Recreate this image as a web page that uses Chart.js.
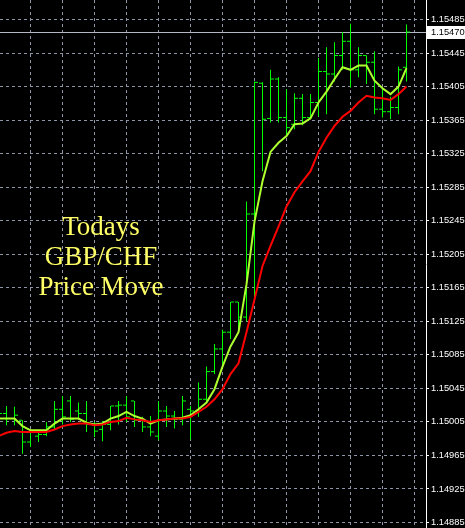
<!DOCTYPE html>
<html>
<head>
<meta charset="utf-8">
<script src="https://cdn.jsdelivr.net/npm/chart.js@4"></script>
<style>
  html, body { margin: 0; padding: 0; background: #000; }
  #wrap { position: relative; width: 465px; height: 528px; overflow: hidden; }
  #note {
    position: absolute; left: 0; top: 211px; width: 202px;
    text-align: center; color: #ffff66;
    font: 27px/30px "Liberation Serif", "Times New Roman", serif;
  }
</style>
</head>
<body>
<div id="wrap">
  <canvas id="ch" width="465" height="528"></canvas>
  <div id="note">Todays<br>GBP/CHF<br>Price Move</div>
</div>
<script>
// GBP/CHF intraday bars, index -1 is the partly hidden bar at the left edge
const FIRST_BAR = -1;
const OPEN  = [1.15012, 1.15015, 1.15009, 1.15007, 1.14981, 1.14988, 1.14990, 1.14999, 1.15020, 1.15030,
               1.15018, 1.15015, 1.15002, 1.14996, 1.15002, 1.15024, 1.15025, 1.15030, 1.15007, 1.14999,
               1.14988, 1.15018, 1.15012, 1.15008, 1.15020, 1.15018, 1.15032, 1.15065, 1.15092, 1.15112,
               1.15148, 1.15130, 1.15253, 1.15409, 1.15367, 1.15414, 1.15368, 1.15360, 1.15391, 1.15368,
               1.15386, 1.15423, 1.15420, 1.15442, 1.15459, 1.15425, 1.15442, 1.15434, 1.15378, 1.15375,
               1.15380, 1.15428];
const HIGH  = [1.15020, 1.15024, 1.15023, 1.15007, 1.14996, 1.14992, 1.15005, 1.15030, 1.15036, 1.15036,
               1.15028, 1.15030, 1.15005, 1.15006, 1.15024, 1.15030, 1.15036, 1.15030, 1.15011, 1.15012,
               1.15030, 1.15024, 1.15018, 1.15036, 1.15024, 1.15052, 1.15071, 1.15098, 1.15115, 1.15148,
               1.15148, 1.15268, 1.15411, 1.15410, 1.15425, 1.15416, 1.15402, 1.15397, 1.15396, 1.15396,
               1.15439, 1.15452, 1.15458, 1.15470, 1.15480, 1.15452, 1.15442, 1.15447, 1.15402, 1.15393,
               1.15429, 1.15479];
const LOW   = [1.15000, 1.15001, 1.15001, 1.14967, 1.14975, 1.14981, 1.14988, 1.14996, 1.15002, 1.15005,
               1.15008, 1.14993, 1.14987, 1.14982, 1.14995, 1.15002, 1.15005, 1.14999, 1.14993, 1.14988,
               1.14983, 1.14999, 1.14997, 1.15001, 1.14984, 1.15011, 1.15028, 1.15062, 1.15071, 1.15104,
               1.15115, 1.15125, 1.15151, 1.15304, 1.15362, 1.15362, 1.15346, 1.15354, 1.15359, 1.15366,
               1.15369, 1.15372, 1.15411, 1.15425, 1.15404, 1.15416, 1.15408, 1.15372, 1.15368, 1.15366,
               1.15372, 1.15411];
const CLOSE = [1.15015, 1.15009, 1.15013, 1.14981, 1.14994, 1.14990, 1.14999, 1.15020, 1.15011, 1.15008,
               1.15015, 1.15002, 1.14994, 1.15002, 1.15024, 1.15025, 1.15011, 1.15007, 1.14999, 1.14993,
               1.15018, 1.15012, 1.15008, 1.15030, 1.15018, 1.15032, 1.15065, 1.15092, 1.15112, 1.15148,
               1.15130, 1.15253, 1.15410, 1.15366, 1.15414, 1.15368, 1.15356, 1.15391, 1.15368, 1.15386,
               1.15423, 1.15420, 1.15442, 1.15459, 1.15425, 1.15442, 1.15434, 1.15378, 1.15375, 1.15380,
               1.15425, 1.15470];
// moving averages (fast = yellow-green, slow = red)
const MA_FAST = [1.15009, 1.15009, 1.15009, 1.15000, 1.14995, 1.14995, 1.14995, 1.15003, 1.15009, 1.15009,
                 1.15009, 1.15004, 1.15002, 1.15003, 1.15009, 1.15012, 1.15017, 1.15012, 1.15009, 1.15003,
                 1.15007, 1.15008, 1.15009, 1.15010, 1.15013, 1.15020, 1.15028, 1.15044, 1.15071, 1.15095,
                 1.15112, 1.15169, 1.15244, 1.15292, 1.15327, 1.15338, 1.15346, 1.15360, 1.15361, 1.15367,
                 1.15386, 1.15399, 1.15414, 1.15428, 1.15425, 1.15430, 1.15430, 1.15412, 1.15403, 1.15396,
                 1.15405, 1.15427];
const MA_SLOW = [1.14988, 1.14992, 1.14994, 1.14993, 1.14993, 1.14993, 1.14993, 1.14996, 1.15000, 1.15002,
                 1.15003, 1.15003, 1.15001, 1.15002, 1.15005, 1.15006, 1.15010, 1.15008, 1.15007, 1.15005,
                 1.15007, 1.15008, 1.15009, 1.15009, 1.15011, 1.15017, 1.15023, 1.15032, 1.15044, 1.15062,
                 1.15075, 1.15112, 1.15151, 1.15191, 1.15215, 1.15238, 1.15262, 1.15279, 1.15292, 1.15304,
                 1.15327, 1.15344, 1.15358, 1.15369, 1.15376, 1.15386, 1.15394, 1.15392, 1.15391, 1.15389,
                 1.15396, 1.15405];
const BID = 1.15470;
const Y_TICKS = [1.14885, 1.14925, 1.14965, 1.15005, 1.15045, 1.15085, 1.15125, 1.15165,
                 1.15205, 1.15245, 1.15285, 1.15325, 1.15365, 1.15405, 1.15445, 1.15485];
const X_GRID = [3, 7, 11, 15, 19, 23, 27, 31, 35, 39, 43, 47, 51];

// ── layout / style ──────────────────────────────────────────────
const AXIS_W   = 39;          // width of the price scale on the right
const BAR_PX   = 8;           // pixels per bar
const X_MIN    = -0.8125;
const X_MAX    = X_MIN + (465 - AXIS_W) / BAR_PX;
const Y_MIN    = 1.1487844;
const Y_MAX    = 1.1550826;
const TICK_OFF = 0.25;
const GRID_CLR = '#8d95a6';
const LBL_FONT = { family: 'Liberation Sans', size: 9.3 };

const xs = OPEN.map((_, k) => k + FIRST_BAR);
const pts = arr => arr.map((v, k) => ({ x: xs[k], y: v }));

const bidLine = {
  id: 'bidLine',
  beforeDatasetsDraw(chart) {
    const { ctx, chartArea: a, scales: { y } } = chart;
    const py = Math.round(y.getPixelForValue(BID)) + 0.5;
    ctx.save();
    ctx.strokeStyle = '#b4b8c4';
    ctx.lineWidth = 1;
    ctx.beginPath();
    ctx.moveTo(a.left, py);
    ctx.lineTo(a.right, py);
    ctx.stroke();
    ctx.restore();
  },
  afterDraw(chart) {
    const { ctx, chartArea: a, scales: { y } } = chart;
    const py = Math.round(y.getPixelForValue(BID));
    ctx.save();
    ctx.fillStyle = '#ffffff';
    ctx.fillRect(a.right + 1, py - 6, chart.width - a.right - 1, 13);
    ctx.fillStyle = '#000000';
    ctx.font = `${LBL_FONT.size}px "${LBL_FONT.family}"`;
    ctx.textBaseline = 'middle';
    ctx.fillText(BID.toFixed(5), a.right + 5, py + 0.5);
    ctx.restore();
  }
};

new Chart(document.getElementById('ch'), {
  type: 'bar',
  data: {
    datasets: [
      { type: 'line', data: pts(MA_SLOW), borderColor: '#ff0000', borderWidth: 2, pointRadius: 0, tension: 0, order: 0 },
      { type: 'line', data: pts(MA_FAST), borderColor: '#adff2f', borderWidth: 2, pointRadius: 0, tension: 0, order: 1 },
      { type: 'line', data: OPEN.map((v, k) => ({ x: xs[k] - TICK_OFF, y: v })), showLine: false,
        pointStyle: 'line', pointRadius: 1.5, pointBorderColor: '#00ff00', pointBorderWidth: 1, order: 2 },
      { type: 'line', data: CLOSE.map((v, k) => ({ x: xs[k] + TICK_OFF, y: v })), showLine: false,
        pointStyle: 'line', pointRadius: 1.5, pointBorderColor: '#00ff00', pointBorderWidth: 1, order: 2 },
      { type: 'bar', data: LOW.map((v, k) => ({ x: xs[k], y: [v, HIGH[k]] })),
        backgroundColor: '#00ff00', borderWidth: 0, barThickness: 1, inflateAmount: 0, grouped: false, order: 3 },
    ]
  },
  options: {
    responsive: false,
    animation: false,
    events: [],
    layout: { padding: 0, autoPadding: false },
    plugins: { legend: { display: false }, tooltip: { enabled: false } },
    scales: {
      x: {
        type: 'linear', min: X_MIN, max: X_MAX, offset: false,
        afterBuildTicks: s => { s.ticks = X_GRID.map(v => ({ value: v })); },
        afterFit: s => { s.height = 0; s.paddingLeft = 0; s.paddingRight = 0; },
        ticks: { display: false },
        grid: { color: GRID_CLR, drawTicks: false, offset: false },
        border: { display: false, dash: [3, 3] }
      },
      y: {
        position: 'right', min: Y_MIN, max: Y_MAX,
        afterBuildTicks: s => { s.ticks = Y_TICKS.map(v => ({ value: v })); },
        afterFit: s => { s.width = AXIS_W; s.paddingTop = 0; s.paddingBottom = 0; },
        ticks: { color: '#ffffff', font: LBL_FONT, padding: 2, callback: v => v.toFixed(5) },
        grid: { color: GRID_CLR, tickLength: 3, tickColor: '#ffffff' },
        border: { display: true, color: '#ffffff', width: 1, dash: [3, 3] }
      }
    }
  },
  plugins: [bidLine]
});
</script>
</body>
</html>
